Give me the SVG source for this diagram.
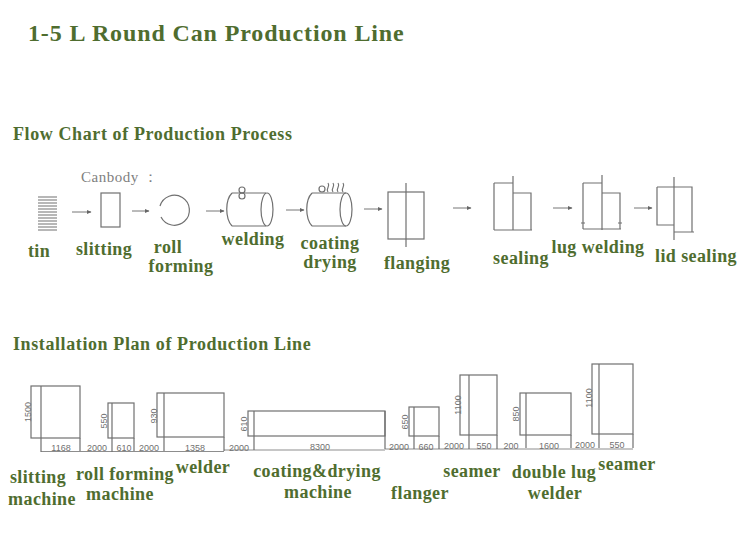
<svg xmlns="http://www.w3.org/2000/svg" width="750" height="544" viewBox="0 0 750 544">
<style>
.t{font-family:"Liberation Serif","Times New Roman",serif;font-weight:bold;fill:#4f6d2f}
.title{font-size:24px;letter-spacing:.87px}
.head{font-size:18px;letter-spacing:.6px}
.l{font-size:18px;text-anchor:middle;letter-spacing:.4px}
.s{fill:none;stroke:#707070;stroke-width:1.2}
.a{fill:none;stroke:#777;stroke-width:1;marker-end:url(#arr)}
.d{font-family:"Liberation Sans",Arial,sans-serif;font-size:9px;fill:#707070;text-anchor:middle}
.c{font-family:"Liberation Serif","Times New Roman",serif;font-size:15px;letter-spacing:.5px;fill:#808080}
</style>
<defs>
<marker id="arr" markerWidth="5" markerHeight="5" refX="4" refY="2.5" orient="auto"><path d="M0 .5L4.500 2.500L0 4.500z" fill="#666"/></marker>
</defs>
<rect width="750" height="544" fill="#fff"/>
<text class="t title" x="28" y="41">1-5 L Round Can Production Line</text>
<text class="t head" x="13" y="140">Flow Chart of Production Process</text>
<text class="t head" x="13" y="350">Installation Plan of Production Line</text>
<text class="c" x="81" y="182">Canbody ：</text>

<g id="connectors">
<path class="a" d="M72 212H91"/><path class="a" d="M132 211H149"/><path class="a" d="M206 211H224"/><path class="a" d="M286 210H304"/><path class="a" d="M364 209H382"/><path class="a" d="M453 208H471"/><path class="a" d="M553 208H572"/><path class="a" d="M634 208H652"/>
</g>

<g id="tin"><path class="s" d="M38 197H57M38 200H57M38 203H57M38 206H57M38 209H57M38 212H57M38 215H57M38 218H57M38 221H57M38 224H57M38 227H57M38 230H57"/><text class="t l" x="39" y="257">tin</text></g>
<g id="slitting"><rect class="s" x="101" y="193" width="19" height="34"/><text class="t l" x="104" y="255">slitting</text></g>
<g id="roll-forming"><path class="s" d="M160 206A15 15 0 1 1 161 217"/><text class="t l" x="168" y="253">roll</text><text class="t l" x="181" y="272">forming</text></g>
<g id="welding"><path class="s" d="M232 193H266M232 226H266M232 193C225 200 225 218 232 226"/><ellipse class="s" cx="267" cy="209.500" rx="6" ry="16.500"/><circle class="s" cx="242" cy="190" r="3"/><circle class="s" cx="242" cy="196" r="3"/><text class="t l" x="253" y="245">welding</text></g>
<g id="coating-drying"><path class="s" d="M312 193H346M312 226H346M312 193C305 200 305 218 312 226"/><ellipse class="s" cx="346" cy="209.500" rx="6" ry="16.500"/><circle class="s" cx="322" cy="189" r="3"/><path class="s" d="M328 192C325 188 331 187 328 183M333 192C330 188 336 187 333 183M338 192C335 188 341 187 338 183M343 192C340 188 346 187 343 183"/><text class="t l" x="330" y="249">coating</text><text class="t l" x="330" y="268">drying</text></g>
<g id="flanging"><rect class="s" x="388" y="192" width="36" height="47"/><path class="s" d="M406 183V247"/><text class="t l" x="417" y="269">flanging</text></g>
<g id="sealing"><path class="s" d="M513 176V230M494 230H532M494 183H513M494 183V230M513 193H531V230"/><text class="t l" x="521" y="264">sealing</text></g>
<g id="lug-welding"><path class="s" d="M602 175V230M583 229H621M583 183H602M583 183V229M602 193H620V229M581 223H585M618 223H622"/><text class="t l" x="598" y="253">lug welding</text></g>
<g id="lid-sealing"><path class="s" d="M674 177V240M657 187H692V232M657 187V225H674M674 232H694"/><text class="t l" x="696" y="262">lid sealing</text></g>

<g id="slitting-machine"><rect class="s" x="31" y="386" width="49" height="52"/><path class="s" d="M41 386V452M80 438V451"/><text class="d" transform="translate(31 412) rotate(-90)">1500</text><text class="d" x="61" y="451">1168</text><text class="t l" x="38" y="483">slitting</text><text class="t l" x="42" y="505">machine</text></g>
<g id="roll-forming-machine"><rect class="s" x="108" y="403" width="26" height="35"/><path class="s" d="M112 403V452M134 438V451"/><text class="d" transform="translate(107 421) rotate(-90)">550</text><text class="d" x="124" y="451">610</text><text class="t l" x="125" y="480">roll forming</text><text class="t l" x="120" y="500">machine</text></g>
<g id="welder"><rect class="s" x="157" y="393" width="67" height="44"/><path class="s" d="M164 393V451M224 437V451"/><text class="d" transform="translate(157 416) rotate(-90)">930</text><text class="d" x="195" y="451">1358</text><text class="t l" x="203" y="473">welder</text></g>
<g id="coating-drying-machine"><rect class="s" x="248" y="411" width="137" height="25"/><path class="s" d="M254 411V450M385 411V449"/><text class="d" transform="translate(247 424) rotate(-90)">610</text><text class="d" x="320" y="450">8300</text><text class="t l" x="317" y="477">coating&amp;drying</text><text class="t l" x="318" y="498">machine</text></g>
<g id="flanger"><rect class="s" x="409" y="407" width="30" height="29"/><path class="s" d="M414 407V449M439 436V449"/><text class="d" transform="translate(408 422) rotate(-90)">650</text><text class="d" x="426" y="450">660</text><text class="t l" x="420" y="499">flanger</text></g>
<g id="seamer-1"><rect class="s" x="460" y="375" width="37" height="60"/><path class="s" d="M469 375V449M497 435V449"/><text class="d" transform="translate(461 405) rotate(-90)">1100</text><text class="d" x="484" y="449">550</text><text class="t l" x="472" y="477">seamer</text></g>
<g id="double-lug-welder"><rect class="s" x="520" y="393" width="51" height="42"/><path class="s" d="M526 393V448M571 435V448"/><text class="d" transform="translate(519 414) rotate(-90)">850</text><text class="d" x="549" y="449">1600</text><text class="t l" x="554" y="478">double lug</text><text class="t l" x="555" y="499">welder</text></g>
<g id="seamer-2"><rect class="s" x="592" y="364" width="41" height="70"/><path class="s" d="M599 364V448M633 434V448"/><text class="d" transform="translate(592 398) rotate(-90)">1100</text><text class="d" x="617" y="448">550</text><text class="t l" x="627" y="470">seamer</text></g>

<g id="baseline">
<path class="s" stroke-opacity=".8" d="M41 451.500H224M224 450H385M385 449H633"/>
<text class="d" x="97" y="451">2000</text><text class="d" x="149" y="451">2000</text><text class="d" x="239" y="451">2000</text><text class="d" x="399" y="450">2000</text><text class="d" x="454" y="449">2000</text><text class="d" x="511" y="449">200</text><text class="d" x="585" y="448">2000</text>
</g>
</svg>
